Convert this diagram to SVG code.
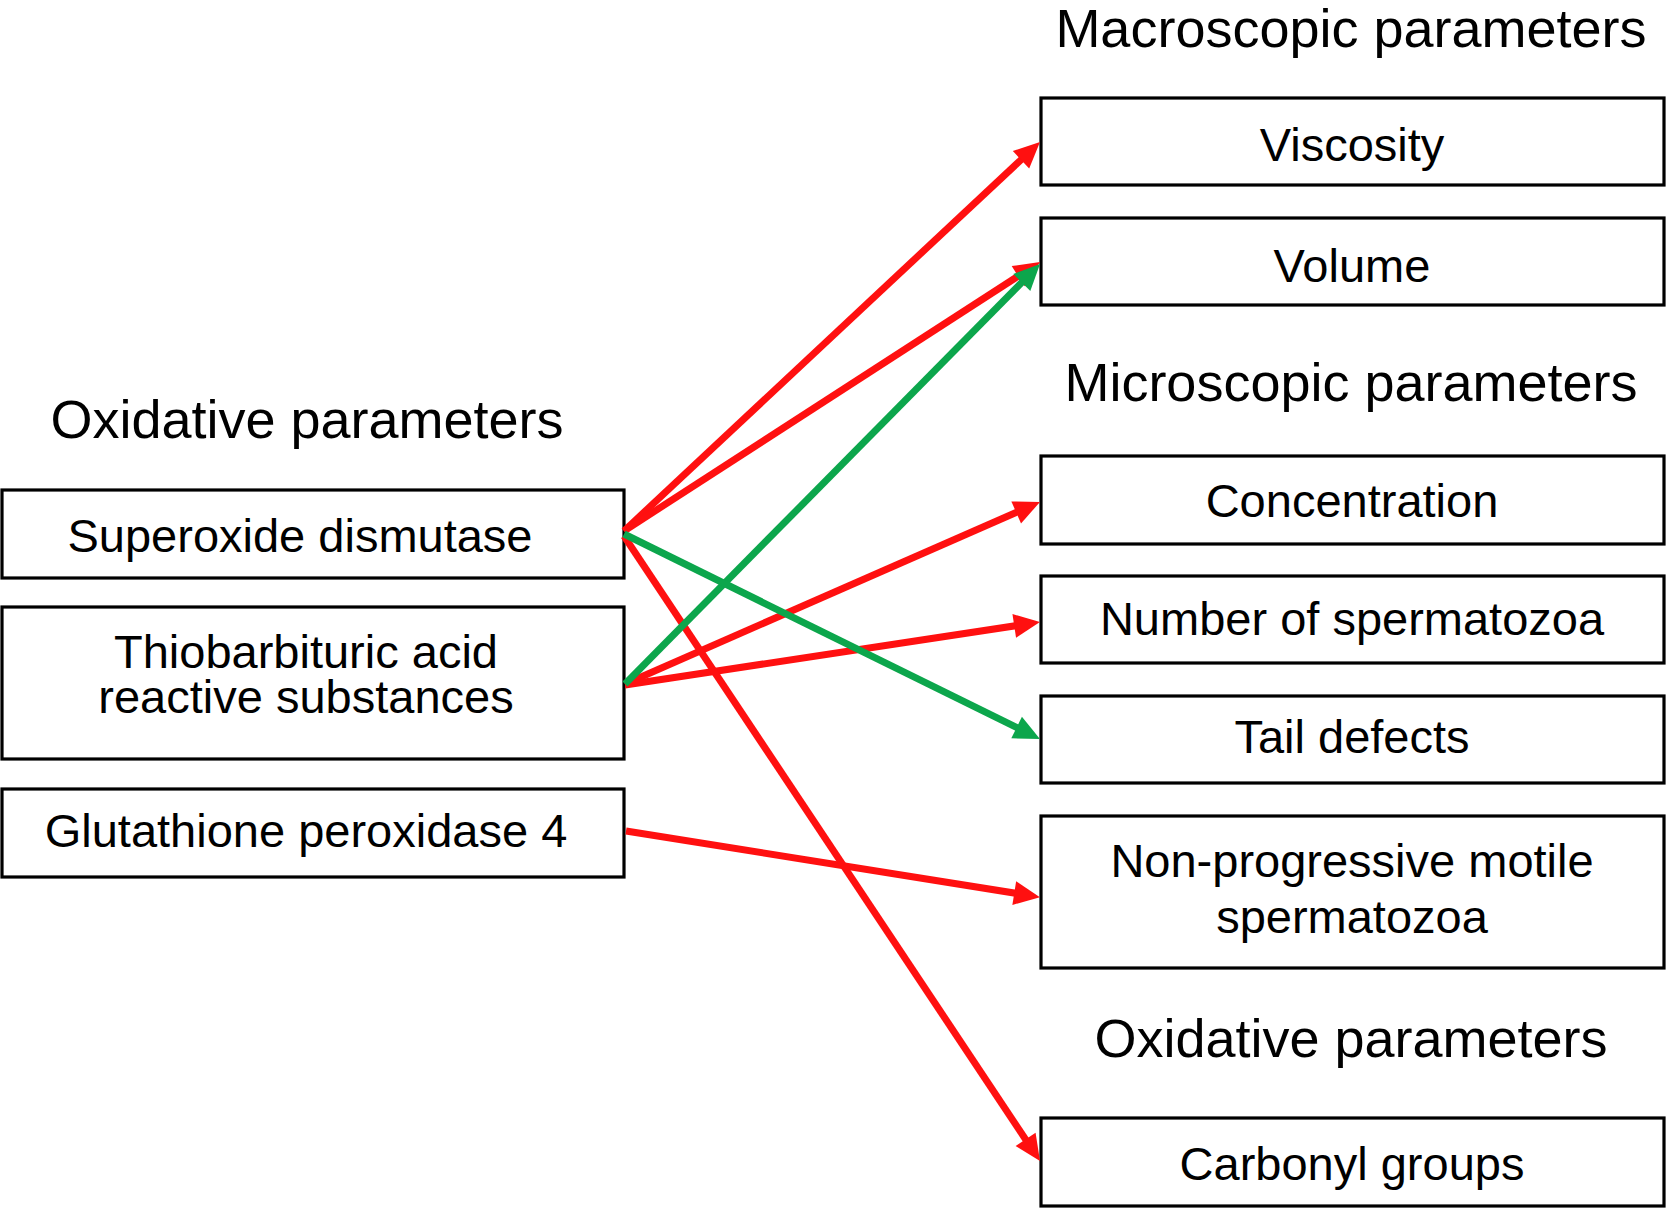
<svg xmlns="http://www.w3.org/2000/svg" width="1667" height="1209" viewBox="0 0 1667 1209">
<style>
.box{fill:#fff;stroke:#000;stroke-width:3.2}
.t{font-family:"Liberation Sans",Arial,sans-serif;font-size:47px;fill:#000;text-anchor:middle}
.h{font-family:"Liberation Sans",Arial,sans-serif;font-size:54px;fill:#000;text-anchor:middle}
.r{stroke:#ff1010;stroke-width:7;fill:none}
.g{stroke:#0ca64c;stroke-width:7;fill:none}
</style>
<defs>
<marker id="ar" markerUnits="userSpaceOnUse" markerWidth="26" markerHeight="24" refX="13" refY="12" orient="auto" overflow="visible"><path d="M0,0 L26,12 L0,24 Z" fill="#ff1010"/></marker>
<marker id="ag" markerUnits="userSpaceOnUse" markerWidth="26" markerHeight="24" refX="13" refY="12" orient="auto" overflow="visible"><path d="M0,0 L26,12 L0,24 Z" fill="#0ca64c"/></marker>
</defs>
<rect width="1667" height="1209" fill="#fff"/>
<g id="titles">
<text class="h" x="1351" y="47">Macroscopic parameters</text>
<text class="h" x="1351" y="401">Microscopic parameters</text>
<text class="h" x="1351" y="1057">Oxidative parameters</text>
<text class="h" x="307" y="438">Oxidative parameters</text>
</g>
<g id="sod"><rect class="box" x="2" y="490" width="622" height="88"/><text class="t" x="300" y="552">Superoxide dismutase</text></g>
<g id="tbars"><rect class="box" x="2" y="607" width="622" height="152"/><text class="t" x="306" y="668">Thiobarbituric acid</text><text class="t" x="306" y="713">reactive substances</text></g>
<g id="gpx4"><rect class="box" x="2" y="789" width="622" height="88"/><text class="t" x="306" y="847">Glutathione peroxidase 4</text></g>
<g id="viscosity"><rect class="box" x="1041" y="98" width="623" height="87"/><text class="t" x="1352" y="161">Viscosity</text></g>
<g id="volume"><rect class="box" x="1041" y="218" width="623" height="87"/><text class="t" x="1352" y="282">Volume</text></g>
<g id="concentration"><rect class="box" x="1041" y="456" width="623" height="88"/><text class="t" x="1352" y="517">Concentration</text></g>
<g id="number"><rect class="box" x="1041" y="576" width="623" height="87"/><text class="t" x="1352" y="635">Number of spermatozoa</text></g>
<g id="tail"><rect class="box" x="1041" y="696" width="623" height="87"/><text class="t" x="1352" y="753">Tail defects</text></g>
<g id="nonprog"><rect class="box" x="1041" y="816" width="623" height="152"/><text class="t" x="1352" y="877">Non-progressive motile</text><text class="t" x="1352" y="933">spermatozoa</text></g>
<g id="carbonyl"><rect class="box" x="1041" y="1118" width="623" height="88"/><text class="t" x="1352" y="1180">Carbonyl groups</text></g>
<g id="connectors">
<path class="r" d="M624,531 L1030.5,150.9" marker-end="url(#ar)"/>
<path class="r" d="M624,531 L1029.1,269.1" marker-end="url(#ar)"/>
<path class="r" d="M625,684 L1028.1,507.2" marker-end="url(#ar)"/>
<path class="r" d="M625,685 L1027.1,624" marker-end="url(#ar)"/>
<path class="r" d="M626,831 L1027.1,895.1" marker-end="url(#ar)"/>
<path class="r" d="M624,536 L1032.8,1150.2" marker-end="url(#ar)"/>
<path class="g" d="M625,684 L1030.9,273.2" marker-end="url(#ag)"/>
<path class="g" d="M624,534 L1028.3,733.3" marker-end="url(#ag)"/>
</g>
</svg>
